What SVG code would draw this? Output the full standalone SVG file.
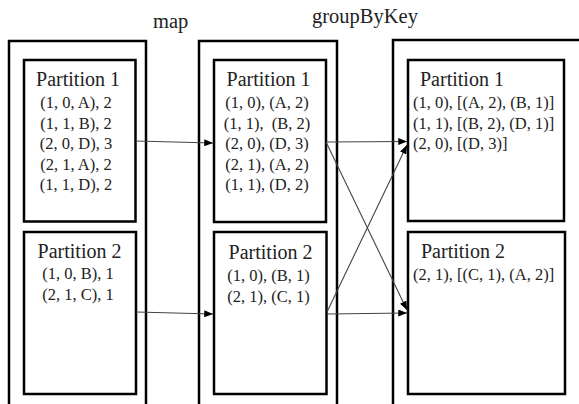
<svg xmlns="http://www.w3.org/2000/svg" width="579" height="404" viewBox="0 0 579 404">
  <style>
    .stage { fill: none; stroke: #000; stroke-width: 2.5; }
    .part { fill: #fff; stroke: #000; stroke-width: 2.5; }
    .lbl { font-family: "Liberation Serif", "Times New Roman", serif; font-size: 20.5px; fill: #222; }
    .ttl { font-family: "Liberation Serif", "Times New Roman", serif; font-size: 20px; fill: #222; }
    .dat { font-family: "Liberation Serif", "Times New Roman", serif; font-size: 16.5px; fill: #222; white-space: pre; }
    .mid { text-anchor: middle; }
    .conn { stroke: #444; stroke-width: 1.1; fill: none; marker-end: url(#arrow); }
  </style>
  <defs>
    <marker id="arrow" viewBox="0 0 10 8" refX="10" refY="4" markerWidth="9" markerHeight="7" markerUnits="userSpaceOnUse" orient="auto">
      <path d="M0,0 L10,4 L0,8 z" fill="#000"/>
    </marker>
  </defs>
  <rect width="579" height="404" fill="#fff"/>

  <!-- stage labels -->
  <text class="lbl" x="153" y="28">map</text>
  <text class="lbl" x="312" y="23">groupByKey</text>

  <!-- stage 1: input -->
  <g id="stage-input">
    <rect class="stage" x="9" y="41" width="137" height="380"/>
  </g>
  <g id="input-p1">
    <rect class="part" x="24" y="60" width="111.5" height="161.5"/>
    <text class="ttl mid" x="78" y="86">Partition 1</text>
    <text class="dat mid" x="76" y="108">(1, 0, A), 2</text>
    <text class="dat mid" x="76" y="128.5">(1, 1, B), 2</text>
    <text class="dat mid" x="76" y="149">(2, 0, D), 3</text>
    <text class="dat mid" x="76" y="169.5">(2, 1, A), 2</text>
    <text class="dat mid" x="76" y="190">(1, 1, D), 2</text>
  </g>
  <g id="input-p2">
    <rect class="part" x="24" y="232" width="112" height="162"/>
    <text class="ttl mid" x="79.5" y="258">Partition 2</text>
    <text class="dat mid" x="78" y="279">(1, 0, B), 1</text>
    <text class="dat mid" x="78" y="300">(2, 1, C), 1</text>
  </g>

  <!-- stage 2: after map -->
  <g id="stage-map">
    <rect class="stage" x="199" y="41" width="138" height="380"/>
  </g>
  <g id="map-p1">
    <rect class="part" x="214" y="60" width="112" height="162"/>
    <text class="ttl mid" x="268.5" y="86">Partition 1</text>
    <text class="dat mid" x="267" y="108">(1, 0), (A, 2)</text>
    <text class="dat mid" x="267" y="128.5">(1, 1),  (B, 2)</text>
    <text class="dat mid" x="267" y="149">(2, 0), (D, 3)</text>
    <text class="dat mid" x="267" y="169.5">(2, 1), (A, 2)</text>
    <text class="dat mid" x="267" y="190">(1, 1), (D, 2)</text>
  </g>
  <g id="map-p2">
    <rect class="part" x="214" y="232" width="112.5" height="162"/>
    <text class="ttl mid" x="270.5" y="259">Partition 2</text>
    <text class="dat mid" x="268.5" y="281">(1, 0), (B, 1)</text>
    <text class="dat mid" x="268.5" y="302">(2, 1), (C, 1)</text>
  </g>

  <!-- stage 3: after groupByKey -->
  <g id="stage-group">
    <rect class="stage" x="393" y="40" width="200" height="380"/>
  </g>
  <g id="group-p1">
    <rect class="part" x="408" y="60" width="156" height="161"/>
    <text class="ttl" x="420" y="86">Partition 1</text>
    <text class="dat" x="413" y="108">(1, 0), [(A, 2), (B, 1)]</text>
    <text class="dat" x="413" y="128.5">(1, 1), [(B, 2), (D, 1)]</text>
    <text class="dat" x="413" y="149">(2, 0), [(D, 3)]</text>
  </g>
  <g id="group-p2">
    <rect class="part" x="408" y="232" width="157" height="162"/>
    <text class="ttl" x="421" y="258">Partition 2</text>
    <text class="dat" x="413" y="280">(2, 1), [(C, 1), (A, 2)]</text>
  </g>

  <!-- data flow -->
  <g id="connectors">
    <line class="conn" x1="135.5" y1="141" x2="213" y2="143"/>
    <line class="conn" x1="136" y1="312" x2="213" y2="314"/>
    <line class="conn" x1="326" y1="142" x2="407" y2="141.5"/>
    <line class="conn" x1="326" y1="142" x2="407" y2="310"/>
    <line class="conn" x1="327" y1="312" x2="407" y2="145"/>
    <line class="conn" x1="327" y1="314" x2="407" y2="313"/>
  </g>
</svg>
